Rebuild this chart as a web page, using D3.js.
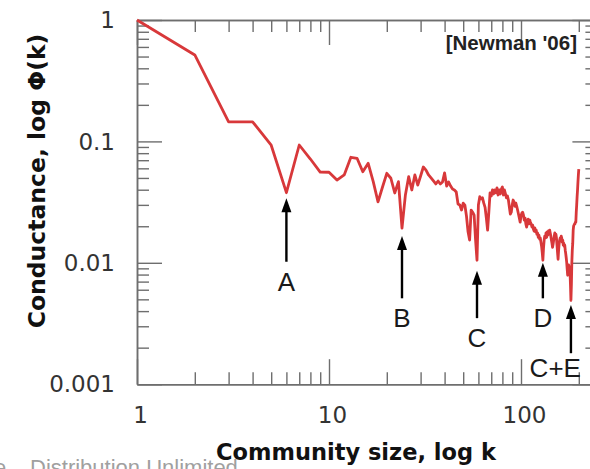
<!DOCTYPE html>
<html>
<head>
<meta charset="utf-8">
<script src="https://cdn.jsdelivr.net/npm/d3@7/dist/d3.min.js"></script>
<style>
  html, body { margin: 0; padding: 0; background: #fff; }
  svg { display: block; }
</style>
</head>
<body>
<svg id="chart" width="590" height="469"></svg>
<script>
// ---- data ----
const communitySize = d3.range(1, 201); // k = 1 .. 200
const conductance = [
  1.0, 0.515, 0.145, 0.145, 0.093, 0.0378, 0.0934, 0.0716, 0.0559, 0.0557,
  0.048, 0.0529, 0.074, 0.0726, 0.0563, 0.066, 0.0466, 0.0318, 0.0421, 0.0546,
  0.0497, 0.0376, 0.0466, 0.0193, 0.0362, 0.0512, 0.0398, 0.0529, 0.0437, 0.0519,
  0.0615, 0.058, 0.0529, 0.05, 0.0472, 0.0446, 0.0472, 0.0446, 0.0463, 0.055,
  0.0429, 0.0463, 0.0429, 0.0405, 0.0398, 0.0383, 0.0305, 0.0299, 0.0272, 0.031,
  0.0299, 0.0243, 0.018, 0.0154, 0.0272, 0.0261, 0.0247, 0.0154, 0.0105, 0.0299,
  0.035, 0.0337, 0.0343, 0.031, 0.0286, 0.0234, 0.0186, 0.0261, 0.0377, 0.0355,
  0.0398, 0.0369, 0.0398, 0.0377, 0.0414, 0.0362, 0.0398, 0.0369, 0.0405, 0.0421,
  0.0362, 0.0398, 0.0369, 0.0343, 0.0355, 0.0329, 0.0286, 0.0252, 0.0261, 0.0299,
  0.0329, 0.0317, 0.0292, 0.031, 0.0292, 0.0272, 0.0252, 0.0234, 0.0216, 0.0243,
  0.0256, 0.0261, 0.0247, 0.0225, 0.0234, 0.0209, 0.0197, 0.0216, 0.0229, 0.0209,
  0.0225, 0.0216, 0.0209, 0.0197, 0.0205, 0.019, 0.0183, 0.0194, 0.018, 0.0186,
  0.0172, 0.0176, 0.0162, 0.0169, 0.0157, 0.016, 0.0148, 0.0137, 0.0122, 0.0105,
  0.0132, 0.0154, 0.0166, 0.016, 0.0176, 0.0162, 0.018, 0.0169, 0.0183, 0.0172,
  0.0186, 0.0176, 0.0166, 0.0154, 0.0145, 0.0134, 0.0143, 0.0154, 0.0166, 0.0176,
  0.0162, 0.0172, 0.016, 0.014, 0.0122, 0.0107, 0.0127, 0.0143, 0.0154, 0.016,
  0.0154, 0.0166, 0.016, 0.0148, 0.0154, 0.014, 0.0145, 0.0137, 0.014, 0.0127,
  0.0119, 0.011, 0.0101, 0.0089, 0.0079, 0.0087, 0.0096, 0.0089, 0.0093, 0.0084,
  0.0066, 0.0049, 0.0066, 0.0101, 0.0127, 0.0145, 0.0186, 0.0201, 0.0205, 0.0209,
  0.0209, 0.0216, 0.0216, 0.0261, 0.0299, 0.035, 0.0398, 0.0463, 0.0529, 0.0592
];

const xMajorTicks = [1, 10, 100];
const xMinorTicks = [2, 3, 4, 5, 6, 7, 8, 9, 20, 30, 40, 50, 60, 70, 80, 90, 200];
const yMajorTicks = [1, 0.1, 0.01, 0.001];
const yMinorTicks = [0.9, 0.8, 0.7, 0.6, 0.5, 0.4, 0.3, 0.2,
                     0.09, 0.08, 0.07, 0.06, 0.05, 0.04, 0.03, 0.02,
                     0.009, 0.008, 0.007, 0.006, 0.005, 0.004, 0.003, 0.002];
const xTickLabels = ["1", "10", "100"];
const yTickLabels = ["1", "0.1", "0.01", "0.001"];

// annotation arrows (in data units)
const arrowLabels = ["A", "B", "C", "D", "C+E"];
const arrowK      = [6, 24, 59, 130, 182];
const arrowTip    = [0.034, 0.0166, 0.0086, 0.0100, 0.0045];
const arrowTail   = [0.0102, 0.0051, 0.0035, 0.0051, 0.0018];

// ---- layout ----
const svg = d3.select("#chart");
const mLeft = 137, mRight = 597.4, mTop = 20, mBottom = 384.2;

const x = d3.scaleLog().domain([1, 250]).range([mLeft, mRight]);
const y = d3.scaleLog().domain([1, 0.001]).range([mTop, mBottom]);

const axisColor = "#6e6e6e";
const majorLen = 25, minorLen = 12;

function styleAxis(g) {
  g.selectAll("path.domain").attr("stroke", axisColor).attr("stroke-width", 1.5);
  g.selectAll(".tick line").attr("stroke", axisColor).attr("stroke-width", 1.4);
  g.selectAll(".tick text").remove();
}

// bottom
svg.append("g").attr("transform", `translate(0,${mBottom})`)
  .call(d3.axisBottom(x).tickValues(xMinorTicks).tickSize(-minorLen).tickSizeOuter(0)).call(styleAxis);
svg.append("g").attr("transform", `translate(0,${mBottom})`)
  .call(d3.axisBottom(x).tickValues(xMajorTicks).tickSize(-majorLen).tickSizeOuter(0)).call(styleAxis);
// top
svg.append("g").attr("transform", `translate(0,${mTop})`)
  .call(d3.axisTop(x).tickValues(xMinorTicks).tickSize(-minorLen).tickSizeOuter(0)).call(styleAxis);
svg.append("g").attr("transform", `translate(0,${mTop})`)
  .call(d3.axisTop(x).tickValues(xMajorTicks).tickSize(-majorLen).tickSizeOuter(0)).call(styleAxis);
// left
svg.append("g").attr("transform", `translate(${mLeft},0)`)
  .call(d3.axisLeft(y).tickValues(yMinorTicks).tickSize(-minorLen).tickSizeOuter(0)).call(styleAxis);
svg.append("g").attr("transform", `translate(${mLeft},0)`)
  .call(d3.axisLeft(y).tickValues(yMajorTicks).tickSize(-majorLen).tickSizeOuter(0)).call(styleAxis);
// right
svg.append("g").attr("transform", `translate(${mRight},0)`)
  .call(d3.axisRight(y).tickValues(yMinorTicks).tickSize(-minorLen).tickSizeOuter(0)).call(styleAxis);
svg.append("g").attr("transform", `translate(${mRight},0)`)
  .call(d3.axisRight(y).tickValues(yMajorTicks).tickSize(-majorLen).tickSizeOuter(0)).call(styleAxis);

// tick labels
svg.append("g").selectAll("text").data(yMajorTicks).join("text")
  .attr("x", 115).attr("y", d => y(d)).attr("dy", "0.36em")
  .attr("text-anchor", "end")
  .attr("font-family", "'DejaVu Sans', sans-serif").attr("font-size", 23)
  .attr("fill", "#333")
  .text((d, i) => yTickLabels[i]);

svg.append("g").selectAll("text").data(xMajorTicks).join("text")
  .attr("x", d => x(d) + 3.5).attr("y", 423)
  .attr("text-anchor", "middle")
  .attr("font-family", "'DejaVu Sans', sans-serif").attr("font-size", 23)
  .attr("fill", "#333")
  .text((d, i) => xTickLabels[i]);

// data line
const line = d3.line()
  .x((d, i) => x(communitySize[i]))
  .y(d => y(d));
svg.append("path")
  .datum(conductance)
  .attr("d", line)
  .attr("fill", "none")
  .attr("stroke", "#d8383a")
  .attr("stroke-width", 2.8)
  .attr("stroke-linejoin", "round");

// arrows
const arrows = svg.append("g");
arrowLabels.forEach((lab, i) => {
  const ax = x(arrowK[i]);
  const yt = y(arrowTip[i]);
  const yb = y(arrowTail[i]);
  arrows.append("line")
    .attr("x1", ax).attr("x2", ax).attr("y1", yt + 10).attr("y2", yb)
    .attr("stroke", "#000").attr("stroke-width", 2.4);
  arrows.append("path")
    .attr("d", `M${ax},${yt} L${ax - 5},${yt + 14} L${ax + 5},${yt + 14} Z`)
    .attr("fill", "#000");
  const isLast = i === arrowLabels.length - 1;
  arrows.append("text")
    .attr("x", isLast ? ax + 10 : ax)
    .attr("y", yb + (isLast ? 24 : 29))
    .attr("text-anchor", isLast ? "end" : "middle")
    .attr("font-family", "'Liberation Sans', Arial, sans-serif")
    .attr("font-size", 26)
    .attr("fill", "#1a1a1a")
    .text(lab);
});

// citation
svg.append("text")
  .attr("x", 577).attr("y", 50)
  .attr("text-anchor", "end")
  .attr("font-family", "'Liberation Sans', Arial, sans-serif")
  .attr("font-size", 20.5).attr("font-weight", "bold")
  .attr("fill", "#222")
  .text("[Newman '06]");

// axis titles
svg.append("text")
  .attr("transform", "translate(45,181) rotate(-90)")
  .attr("text-anchor", "middle")
  .attr("font-family", "'DejaVu Sans', sans-serif")
  .attr("font-size", 23.5).attr("font-weight", "bold")
  .attr("fill", "#111")
  .text("Conductance, log Φ(k)");

// watermark (cut off at bottom, as in the reference)
svg.append("text")
  .attr("x", -6).attr("y", 475)
  .attr("font-family", "'Liberation Sans', Arial, sans-serif")
  .attr("font-size", 22).attr("fill", "#a0a0a0")
  .text("e.");
svg.append("text")
  .attr("x", 30).attr("y", 475)
  .attr("font-family", "'Liberation Sans', Arial, sans-serif")
  .attr("font-size", 22).attr("fill", "#a0a0a0")
  .text("Distribution Unlimited");

svg.append("text")
  .attr("x", 356).attr("y", 460)
  .attr("text-anchor", "middle")
  .attr("font-family", "'DejaVu Sans', sans-serif")
  .attr("font-size", 22.5).attr("font-weight", "bold")
  .attr("fill", "#111")
  .text("Community size, log k");
</script>
</body>
</html>
